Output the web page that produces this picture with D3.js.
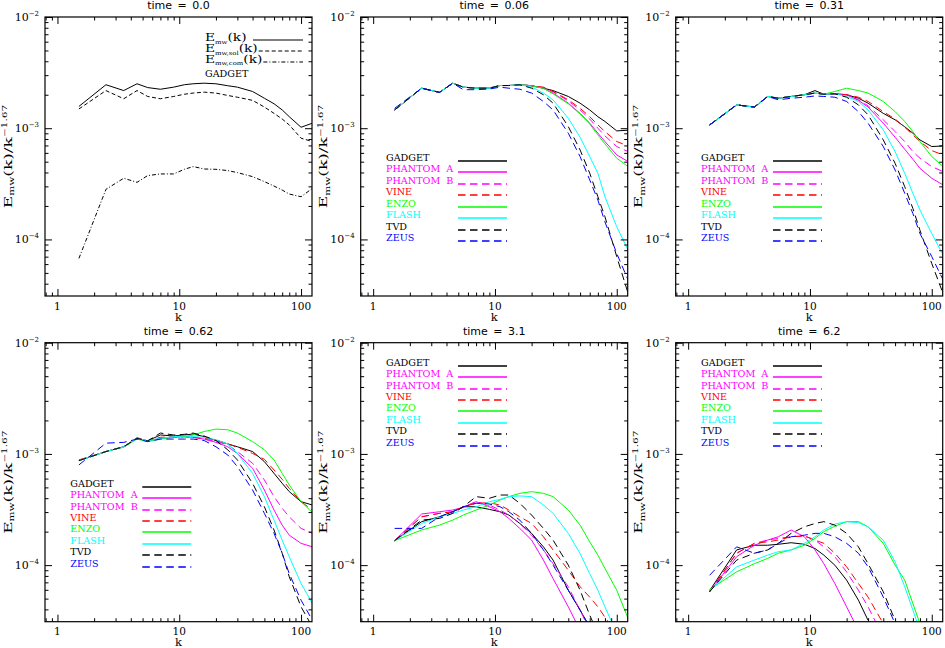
<!DOCTYPE html>
<html>
<head>
<meta charset="utf-8">
<script src="https://cdn.jsdelivr.net/npm/d3@7"></script>
<style>
  body { margin: 0; background: #fff; }
  text { font-family: "DejaVu Serif", "Liberation Serif", serif; fill: #000; }
  .title { font-family: "DejaVu Sans", sans-serif; font-size: 11px; }
</style>
</head>
<body>
<svg id="chart" width="945" height="648"></svg>
<script>
const K = [1.5, 2.5, 3.5, 4.5, 5.5, 7, 9, 11, 13, 16, 20, 25, 30, 40, 50, 60, 70, 80, 100, 124];

const codes = ["GADGET", "PHANTOM A", "PHANTOM B", "VINE", "ENZO", "FLASH", "TVD", "ZEUS"];
const codeColors = ["#000000", "#ff00ff", "#ff00ff", "#ff0000", "#00ff00", "#00ffff", "#000000", "#0000ff"];
const codeDashed = [false, false, true, true, false, false, true, true];

const titles = ["time = 0.0", "time = 0.06", "time = 0.31", "time = 0.62", "time = 3.1", "time = 6.2"];

// time = 0.0 (GADGET only: total, solenoidal, compressive)
const t00_total = [1.57e-3, 2.46e-3, 2.18e-3, 2.51e-3, 2.32e-3, 2.24e-3, 2.34e-3, 2.46e-3, 2.51e-3, 2.54e-3, 2.51e-3, 2.41e-3, 2.34e-3, 2.14e-3, 1.86e-3, 1.66e-3, 1.46e-3, 1.27e-3, 1.02e-3, 1.11e-3];
const t00_sol = [1.49e-3, 2.18e-3, 1.84e-3, 2.18e-3, 1.93e-3, 1.84e-3, 1.93e-3, 2.02e-3, 2.07e-3, 2.11e-3, 2.07e-3, 1.97e-3, 1.90e-3, 1.78e-3, 1.55e-3, 1.36e-3, 1.21e-3, 1.07e-3, 0.813e-3, 0.759e-3];
const t00_com = [0.0675e-3, 0.282e-3, 0.355e-3, 0.326e-3, 0.375e-3, 0.388e-3, 0.388e-3, 0.427e-3, 0.452e-3, 0.430e-3, 0.427e-3, 0.416e-3, 0.399e-3, 0.367e-3, 0.331e-3, 0.302e-3, 0.278e-3, 0.256e-3, 0.242e-3, 0.288e-3];

// time = 0.06
const t006_gadget = [1.46e-3, 2.29e-3, 2.10e-3, 2.54e-3, 2.34e-3, 2.29e-3, 2.29e-3, 2.42e-3, 2.42e-3, 2.46e-3, 2.41e-3, 2.29e-3, 2.18e-3, 1.93e-3, 1.68e-3, 1.46e-3, 1.27e-3, 1.15e-3, 0.946e-3, 0.96e-3];
const t006_phantomA = [1.46e-3, 2.29e-3, 2.10e-3, 2.54e-3, 2.34e-3, 2.29e-3, 2.29e-3, 2.42e-3, 2.42e-3, 2.46e-3, 2.41e-3, 2.29e-3, 2.07e-3, 1.68e-3, 1.36e-3, 1.11e-3, 0.902e-3, 0.759e-3, 0.575e-3, 0.501e-3];
const t006_phantomB = [1.46e-3, 2.29e-3, 2.10e-3, 2.54e-3, 2.34e-3, 2.29e-3, 2.29e-3, 2.42e-3, 2.42e-3, 2.46e-3, 2.41e-3, 2.31e-3, 2.13e-3, 1.76e-3, 1.46e-3, 1.21e-3, 1.00e-3, 0.853e-3, 0.684e-3, 0.616e-3];
const t006_vine = [1.46e-3, 2.29e-3, 2.10e-3, 2.54e-3, 2.34e-3, 2.29e-3, 2.29e-3, 2.42e-3, 2.42e-3, 2.46e-3, 2.41e-3, 2.34e-3, 2.14e-3, 1.80e-3, 1.51e-3, 1.27e-3, 1.07e-3, 0.933e-3, 0.759e-3, 0.693e-3];
const t006_enzo = [1.46e-3, 2.29e-3, 2.10e-3, 2.54e-3, 2.34e-3, 2.29e-3, 2.29e-3, 2.42e-3, 2.42e-3, 2.46e-3, 2.41e-3, 2.28e-3, 2.04e-3, 1.66e-3, 1.34e-3, 1.09e-3, 0.871e-3, 0.723e-3, 0.537e-3, 0.452e-3];
const t006_flash = [1.46e-3, 2.29e-3, 2.10e-3, 2.54e-3, 2.34e-3, 2.29e-3, 2.29e-3, 2.42e-3, 2.42e-3, 2.46e-3, 2.34e-3, 2.07e-3, 1.80e-3, 1.23e-3, 0.830e-3, 0.556e-3, 0.394e-3, 0.242e-3, 0.130e-3, 0.080e-3];
const t006_tvd = [1.46e-3, 2.29e-3, 2.10e-3, 2.54e-3, 2.34e-3, 2.29e-3, 2.29e-3, 2.42e-3, 2.42e-3, 2.46e-3, 2.29e-3, 2.00e-3, 1.68e-3, 1.035e-3, 0.638e-3, 0.394e-3, 0.242e-3, 0.160e-3, 0.070e-3, 0.0327e-3];
const t006_zeus = [1.51e-3, 2.29e-3, 2.10e-3, 2.54e-3, 2.22e-3, 2.22e-3, 2.25e-3, 2.34e-3, 2.29e-3, 2.24e-3, 2.07e-3, 1.74e-3, 1.46e-3, 0.902e-3, 0.556e-3, 0.343e-3, 0.226e-3, 0.144e-3, 0.0748e-3, 0.0431e-3];

// time = 0.31
const t031_gadget = [1.07e-3, 1.62e-3, 1.55e-3, 1.93e-3, 1.86e-3, 1.93e-3, 2.00e-3, 2.18e-3, 2.02e-3, 2.04e-3, 2.00e-3, 1.86e-3, 1.68e-3, 1.36e-3, 1.19e-3, 1.03e-3, 0.902e-3, 0.785e-3, 0.684e-3, 0.693e-3];
const t031_phantomA = [1.07e-3, 1.62e-3, 1.55e-3, 1.93e-3, 1.86e-3, 1.93e-3, 2.00e-3, 2.07e-3, 2.02e-3, 2.04e-3, 2.00e-3, 1.78e-3, 1.55e-3, 1.11e-3, 0.830e-3, 0.647e-3, 0.526e-3, 0.436e-3, 0.355e-3, 0.309e-3];
const t031_phantomB = [1.07e-3, 1.62e-3, 1.55e-3, 1.93e-3, 1.86e-3, 1.93e-3, 2.00e-3, 2.07e-3, 2.02e-3, 2.04e-3, 2.00e-3, 1.80e-3, 1.59e-3, 1.19e-3, 0.933e-3, 0.759e-3, 0.616e-3, 0.537e-3, 0.452e-3, 0.407e-3];
const t031_vine = [1.07e-3, 1.62e-3, 1.55e-3, 1.93e-3, 1.86e-3, 1.93e-3, 2.00e-3, 2.07e-3, 2.02e-3, 2.04e-3, 2.00e-3, 1.90e-3, 1.74e-3, 1.41e-3, 1.21e-3, 1.02e-3, 0.871e-3, 0.759e-3, 0.629e-3, 0.575e-3];
const t031_enzo = [1.07e-3, 1.62e-3, 1.55e-3, 1.93e-3, 1.86e-3, 1.93e-3, 2.00e-3, 2.07e-3, 2.02e-3, 2.14e-3, 2.29e-3, 2.18e-3, 2.07e-3, 1.74e-3, 1.41e-3, 1.15e-3, 0.933e-3, 0.759e-3, 0.556e-3, 0.452e-3];
const t031_flash = [1.07e-3, 1.62e-3, 1.55e-3, 1.93e-3, 1.86e-3, 1.93e-3, 2.00e-3, 2.07e-3, 2.02e-3, 2.04e-3, 1.93e-3, 1.74e-3, 1.46e-3, 0.966e-3, 0.616e-3, 0.393e-3, 0.260e-3, 0.184e-3, 0.113e-3, 0.0723e-3];
const t031_tvd = [1.07e-3, 1.62e-3, 1.55e-3, 1.93e-3, 1.86e-3, 1.93e-3, 2.00e-3, 2.07e-3, 2.02e-3, 2.04e-3, 1.90e-3, 1.62e-3, 1.32e-3, 0.785e-3, 0.484e-3, 0.298e-3, 0.190e-3, 0.121e-3, 0.0608e-3, 0.0326e-3];
const t031_zeus = [1.07e-3, 1.62e-3, 1.55e-3, 1.93e-3, 1.80e-3, 1.86e-3, 1.90e-3, 1.95e-3, 1.93e-3, 1.90e-3, 1.74e-3, 1.41e-3, 1.11e-3, 0.684e-3, 0.421e-3, 0.260e-3, 0.171e-3, 0.113e-3, 0.0701e-3, 0.0432e-3];

// time = 0.62
const t062_gadget = [0.871e-3, 1.05e-3, 1.16e-3, 1.38e-3, 1.31e-3, 1.48e-3, 1.45e-3, 1.48e-3, 1.51e-3, 1.43e-3, 1.32e-3, 1.23e-3, 1.16e-3, 1.05e-3, 0.853e-3, 0.669e-3, 0.544e-3, 0.458e-3, 0.372e-3, 0.347e-3];
const t062_phantomA = [0.871e-3, 1.05e-3, 1.16e-3, 1.38e-3, 1.31e-3, 1.38e-3, 1.41e-3, 1.43e-3, 1.41e-3, 1.36e-3, 1.27e-3, 1.16e-3, 1.01e-3, 0.743e-3, 0.474e-3, 0.313e-3, 0.229e-3, 0.186e-3, 0.157e-3, 0.146e-3];
const t062_phantomB = [0.871e-3, 1.05e-3, 1.16e-3, 1.38e-3, 1.31e-3, 1.38e-3, 1.41e-3, 1.43e-3, 1.41e-3, 1.36e-3, 1.29e-3, 1.21e-3, 1.05e-3, 0.824e-3, 0.583e-3, 0.413e-3, 0.324e-3, 0.272e-3, 0.214e-3, 0.193e-3];
const t062_vine = [0.883e-3, 1.05e-3, 1.16e-3, 1.40e-3, 1.31e-3, 1.41e-3, 1.43e-3, 1.43e-3, 1.41e-3, 1.38e-3, 1.34e-3, 1.23e-3, 1.15e-3, 1.01e-3, 0.895e-3, 0.718e-3, 0.591e-3, 0.490e-3, 0.372e-3, 0.313e-3];
const t062_enzo = [0.871e-3, 1.05e-3, 1.15e-3, 1.36e-3, 1.29e-3, 1.36e-3, 1.41e-3, 1.43e-3, 1.48e-3, 1.59e-3, 1.67e-3, 1.65e-3, 1.54e-3, 1.29e-3, 1.09e-3, 0.883e-3, 0.669e-3, 0.526e-3, 0.372e-3, 0.296e-3];
const t062_flash = [0.871e-3, 1.05e-3, 1.16e-3, 1.38e-3, 1.31e-3, 1.38e-3, 1.43e-3, 1.45e-3, 1.43e-3, 1.41e-3, 1.34e-3, 1.23e-3, 1.01e-3, 0.669e-3, 0.413e-3, 0.254e-3, 0.168e-3, 0.119e-3, 0.0684e-3, 0.0451e-3];
const t062_tvd = [0.871e-3, 1.05e-3, 1.16e-3, 1.38e-3, 1.31e-3, 1.54e-3, 1.48e-3, 1.50e-3, 1.54e-3, 1.45e-3, 1.32e-3, 1.09e-3, 0.883e-3, 0.544e-3, 0.335e-3, 0.207e-3, 0.128e-3, 0.0786e-3, 0.0422e-3, 0.0278e-3];
const t062_zeus = [0.796e-3, 1.25e-3, 1.27e-3, 1.36e-3, 1.29e-3, 1.36e-3, 1.36e-3, 1.36e-3, 1.36e-3, 1.32e-3, 1.16e-3, 0.979e-3, 0.769e-3, 0.474e-3, 0.292e-3, 0.193e-3, 0.128e-3, 0.0838e-3, 0.0484e-3, 0.0319e-3];

// time = 3.1 (curves leave the bottom of the frame, so some stop early)
const t31_gadget = [0.166e-3, 0.246e-3, 0.272e-3, 0.302e-3, 0.335e-3, 0.335e-3, 0.317e-3, 0.302e-3, 0.282e-3, 0.237e-3, 0.193e-3, 0.146e-3, 0.111e-3, 0.0595e-3, 0.0394e-3, 0.0278e-3];
const t31_phantomA = [0.166e-3, 0.288e-3, 0.302e-3, 0.313e-3, 0.331e-3, 0.372e-3, 0.335e-3, 0.302e-3, 0.263e-3, 0.214e-3, 0.168e-3, 0.111e-3, 0.0757e-3, 0.0422e-3, 0.0259e-3];
const t31_phantomB = [0.166e-3, 0.272e-3, 0.292e-3, 0.302e-3, 0.331e-3, 0.372e-3, 0.347e-3, 0.313e-3, 0.282e-3, 0.237e-3, 0.186e-3, 0.137e-3, 0.103e-3, 0.0639e-3, 0.0394e-3, 0.0259e-3];
const t31_vine = [0.166e-3, 0.272e-3, 0.292e-3, 0.302e-3, 0.335e-3, 0.360e-3, 0.364e-3, 0.347e-3, 0.313e-3, 0.272e-3, 0.237e-3, 0.180e-3, 0.137e-3, 0.0900e-3, 0.0639e-3, 0.0516e-3, 0.0422e-3, 0.0340e-3, 0.0242e-3];
const t31_enzo = [0.166e-3, 0.207e-3, 0.229e-3, 0.254e-3, 0.282e-3, 0.313e-3, 0.347e-3, 0.385e-3, 0.413e-3, 0.442e-3, 0.458e-3, 0.442e-3, 0.413e-3, 0.313e-3, 0.229e-3, 0.162e-3, 0.123e-3, 0.0934e-3, 0.0595e-3, 0.0331e-3];
const t31_flash = [0.166e-3, 0.237e-3, 0.272e-3, 0.292e-3, 0.313e-3, 0.335e-3, 0.372e-3, 0.390e-3, 0.413e-3, 0.419e-3, 0.413e-3, 0.347e-3, 0.292e-3, 0.193e-3, 0.127e-3, 0.0838e-3, 0.0595e-3, 0.0422e-3, 0.0243e-3];
const t31_tvd = [0.166e-3, 0.254e-3, 0.263e-3, 0.292e-3, 0.335e-3, 0.413e-3, 0.399e-3, 0.427e-3, 0.427e-3, 0.360e-3, 0.282e-3, 0.214e-3, 0.168e-3, 0.100e-3, 0.0595e-3, 0.0355e-3, 0.0243e-3];
const t31_zeus = [0.214e-3, 0.214e-3, 0.272e-3, 0.302e-3, 0.335e-3, 0.360e-3, 0.355e-3, 0.335e-3, 0.302e-3, 0.254e-3, 0.193e-3, 0.137e-3, 0.100e-3, 0.0595e-3, 0.0394e-3, 0.0278e-3];

// time = 6.2
const t62_gadget = [0.0589e-3, 0.137e-3, 0.151e-3, 0.151e-3, 0.154e-3, 0.159e-3, 0.154e-3, 0.141e-3, 0.123e-3, 0.100e-3, 0.0733e-3, 0.0484e-3, 0.0319e-3];
const t62_phantomA = [0.0576e-3, 0.119e-3, 0.151e-3, 0.168e-3, 0.180e-3, 0.207e-3, 0.180e-3, 0.137e-3, 0.103e-3, 0.0684e-3, 0.0422e-3, 0.0259e-3];
const t62_phantomB = [0.0576e-3, 0.128e-3, 0.157e-3, 0.168e-3, 0.174e-3, 0.180e-3, 0.183e-3, 0.168e-3, 0.146e-3, 0.119e-3, 0.0870e-3, 0.0595e-3, 0.0422e-3, 0.0225e-3];
const t62_vine = [0.0576e-3, 0.128e-3, 0.157e-3, 0.162e-3, 0.168e-3, 0.180e-3, 0.183e-3, 0.168e-3, 0.157e-3, 0.128e-3, 0.0966e-3, 0.0684e-3, 0.0516e-3, 0.0298e-3];
const t62_enzo = [0.0604e-3, 0.0870e-3, 0.103e-3, 0.115e-3, 0.128e-3, 0.137e-3, 0.151e-3, 0.174e-3, 0.200e-3, 0.224e-3, 0.246e-3, 0.246e-3, 0.221e-3, 0.157e-3, 0.100e-3, 0.0733e-3, 0.0451e-3, 0.0298e-3];
const t62_flash = [0.0589e-3, 0.0966e-3, 0.111e-3, 0.123e-3, 0.132e-3, 0.137e-3, 0.157e-3, 0.180e-3, 0.207e-3, 0.234e-3, 0.246e-3, 0.241e-3, 0.221e-3, 0.168e-3, 0.107e-3, 0.0639e-3, 0.0394e-3, 0.0259e-3];
const t62_tvd = [0.0576e-3, 0.111e-3, 0.128e-3, 0.137e-3, 0.157e-3, 0.193e-3, 0.221e-3, 0.237e-3, 0.246e-3, 0.229e-3, 0.193e-3, 0.146e-3, 0.103e-3, 0.0576e-3, 0.0319e-3];
const t62_zeus = [0.0811e-3, 0.146e-3, 0.128e-3, 0.137e-3, 0.157e-3, 0.180e-3, 0.186e-3, 0.193e-3, 0.193e-3, 0.180e-3, 0.157e-3, 0.128e-3, 0.0966e-3, 0.0516e-3, 0.0298e-3];

const codePanels = [
  [t006_gadget, t006_phantomA, t006_phantomB, t006_vine, t006_enzo, t006_flash, t006_tvd, t006_zeus],
  [t031_gadget, t031_phantomA, t031_phantomB, t031_vine, t031_enzo, t031_flash, t031_tvd, t031_zeus],
  [t062_gadget, t062_phantomA, t062_phantomB, t062_vine, t062_enzo, t062_flash, t062_tvd, t062_zeus],
  [t31_gadget, t31_phantomA, t31_phantomB, t31_vine, t31_enzo, t31_flash, t31_tvd, t31_zeus],
  [t62_gadget, t62_phantomA, t62_phantomB, t62_vine, t62_enzo, t62_flash, t62_tvd, t62_zeus]
];

const W = 267, H = 279;
const colX = [45, 360.7, 675.7];
const rowY = [17, 342.7];
const DASH = "7.5,4.5";

const svg = d3.select("#chart");
const x = d3.scaleLog().domain([0.79, 123]).range([0, W]);
const y = d3.scaleLog().domain([3.1e-5, 1e-2]).range([H, 0]);
const line = d3.line().x((d, i) => x(K[i])).y(d => y(d));

const majorX = [1, 10, 100];
const minorX = x.ticks().filter(v => !majorX.includes(v));
const majorY = [1e-4, 1e-3, 1e-2];
const minorY = y.ticks().filter(v => !majorY.some(m => Math.abs(m - v) / m < 1e-6));

svg.append("defs").append("clipPath").attr("id", "frameClip")
  .append("rect").attr("width", W).attr("height", H);

function drawFrame(g) {
  const noDomain = s => s.select(".domain").remove();
  const axes = g.append("g").attr("class", "axes");
  [[majorX, 7], [minorX, 3.5]].forEach(([vals, len]) => {
    axes.append("g").attr("transform", `translate(0,${H})`)
      .call(d3.axisBottom(x).tickValues(vals).tickSize(-len).tickFormat("")).call(noDomain);
    axes.append("g")
      .call(d3.axisTop(x).tickValues(vals).tickSize(-len).tickFormat("")).call(noDomain);
  });
  [[majorY, 7], [minorY, 3.5]].forEach(([vals, len]) => {
    axes.append("g")
      .call(d3.axisLeft(y).tickValues(vals).tickSize(-len).tickFormat("")).call(noDomain);
    axes.append("g").attr("transform", `translate(${W},0)`)
      .call(d3.axisRight(y).tickValues(vals).tickSize(-len).tickFormat("")).call(noDomain);
  });
  axes.selectAll(".tick line").attr("stroke", "#000").attr("stroke-width", 1);

  g.append("rect").attr("width", W).attr("height", H)
    .attr("fill", "none").attr("stroke", "#000").attr("stroke-width", 1.2);

  // x tick labels
  g.selectAll("text.xl").data(majorX).join("text").attr("class", "xl")
    .attr("x", d => x(d)).attr("y", H + 13.5)
    .attr("text-anchor", "middle").attr("font-size", 10.5).text(d => d);

  // y tick labels 10^n
  const yl = g.selectAll("text.yl").data(majorY).join("text").attr("class", "yl")
    .attr("x", -6).attr("y", d => y(d) + 4)
    .attr("text-anchor", "end").attr("font-size", 11);
  yl.append("tspan").text("10");
  yl.append("tspan").attr("font-size", 7).attr("dy", -5)
    .text(d => "\u2212" + Math.round(-Math.log10(d)));

  g.append("text").attr("x", W / 2).attr("y", H + 24.5)
    .attr("text-anchor", "middle").attr("font-size", 11.5).text("k");

  // y title, stretched along its length like the wide plotting font
  const lab = g.append("text")
    .attr("transform", `translate(-33.5,${H / 2}) rotate(-90) scale(1.62,1)`)
    .attr("text-anchor", "middle").attr("font-size", 10.5);
  lab.append("tspan").text("E");
  lab.append("tspan").attr("font-size", 6.5).attr("dy", 2.5).text("mw");
  lab.append("tspan").attr("dy", -2.5).text("(k)/k");
  lab.append("tspan").attr("font-size", 6.5).attr("dy", -4.5).text("\u22121.67");
}

function addPanel(i) {
  const col = i % 3, row = Math.floor(i / 3);
  const g = svg.append("g").attr("transform", `translate(${colX[col]},${rowY[row]})`);

  g.append("text").attr("class", "title")
    .attr("x", W / 2).attr("y", -8).attr("text-anchor", "middle")
    .style("word-spacing", "2px").text(titles[i]);

  const plot = g.append("g").attr("clip-path", "url(#frameClip)");

  if (i === 0) {
    const gadgetLines = [
      { v: t00_total, dash: null, sub: "mw" },
      { v: t00_sol, dash: "4,2.5", sub: "mw,sol" },
      { v: t00_com, dash: "4,2,1,2", sub: "mw,com" }
    ];
    plot.selectAll("path").data(gadgetLines).join("path")
      .attr("d", d => line(d.v)).attr("fill", "none")
      .attr("stroke", "#000").attr("stroke-width", 1)
      .attr("stroke-dasharray", d => d.dash);

    gadgetLines.forEach((d, j) => {
      const by = [24, 35, 45.5][j];
      const t = g.append("text")
        .attr("transform", `translate(160,${by}) scale(1.25,1)`).attr("font-size", 11);
      t.append("tspan").text("E");
      t.append("tspan").attr("font-size", 5.5).attr("dy", 2.5).text(d.sub);
      t.append("tspan").attr("dy", -2.5).text("(k)");
      // line starts right after the label
      const end = 160 + 1.25 * t.node().getComputedTextLength();
      g.append("line").attr("x1", Math.max(208, end + 1)).attr("x2", 258)
        .attr("y1", Math.round(by) - 1).attr("y2", Math.round(by) - 1)
        .attr("stroke", "#000").attr("stroke-width", 1.1)
        .attr("stroke-dasharray", d.dash);
    });
    g.append("text").attr("x", 160).attr("y", 60).attr("font-size", 9.6).text("GADGET");
  } else {
    const sets = codePanels[i - 1];
    plot.selectAll("path").data(sets).join("path")
      .attr("d", d => line(d)).attr("fill", "none")
      .attr("stroke", (d, j) => codeColors[j]).attr("stroke-width", 1)
      .attr("stroke-dasharray", (d, j) => codeDashed[j] ? DASH : null);

    const ly0 = (i >= 4) ? 23 : 144;
    codes.forEach((name, j) => {
      const by = Math.round(rowY[row] + ly0 + j * 11.43) - rowY[row];
      g.append("text").attr("x", 25.3).attr("y", by).attr("font-size", 9.6)
        .style("fill", codeColors[j]).style("white-space", "pre")
        .text(name.replace(" ", "  "));
      g.append("line").attr("x1", 97.3).attr("x2", 146.3)
        .attr("y1", by).attr("y2", by)
        .style("stroke", codeColors[j]).attr("stroke-width", 1.3)
        .attr("stroke-dasharray", codeDashed[j] ? DASH : null);
    });
  }

  drawFrame(g);
}

d3.range(6).forEach(addPanel);
</script>
</body>
</html>
